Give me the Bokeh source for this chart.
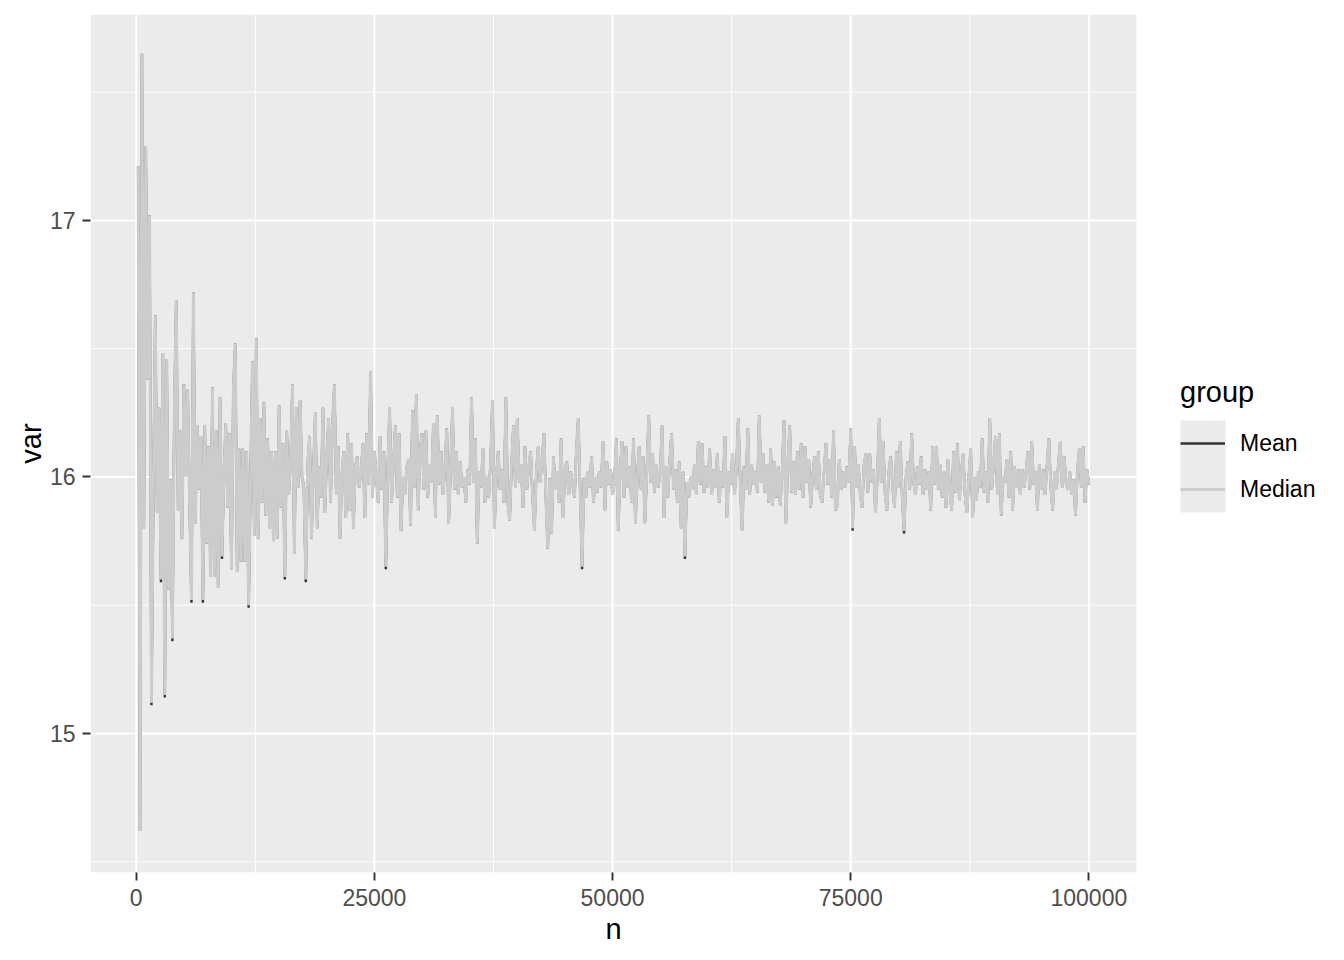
from bokeh.plotting import figure
from bokeh.models import (Range1d, FixedTicker, NumeralTickFormatter, Legend, LegendItem,
                          ColumnDataSource, BoxAnnotation, Title)
from bokeh.embed import file_html
from bokeh.resources import INLINE

# ---------------- data ----------------
n_values = list(range(200, 100001, 200))

median_values = [
    # n 200 - 5000
    17.21, 14.62, 17.65, 15.80, 17.29, 16.38, 17.02, 15.12, 15.95, 16.63, 15.86, 16.27, 15.60, 16.48, 15.15, 16.46, 15.56, 15.99, 15.37, 16.26, 16.69, 15.87, 16.18, 15.76, 16.36,
    # n 5200 - 10000
    16.00, 16.34, 15.90, 15.52, 16.72, 15.82, 16.20, 15.95, 16.16, 15.52, 16.20, 15.74, 16.12, 15.61, 16.35, 15.61, 16.18, 15.57, 16.31, 15.69, 16.00, 16.21, 15.88, 16.17, 15.64,
    # n 10200 - 15000
    16.35, 16.52, 15.63, 16.11, 15.67, 16.11, 15.67, 16.10, 15.50, 15.99, 16.45, 15.77, 16.54, 15.76, 16.23, 15.90, 16.29, 15.85, 16.15, 15.80, 16.10, 15.75, 16.10, 15.76, 16.28,
    # n 15200 - 20000
    15.88, 16.13, 15.61, 16.18, 15.93, 16.05, 16.36, 15.70, 16.27, 15.96, 16.30, 16.00, 15.96, 15.60, 16.05, 16.16, 15.76, 16.03, 16.25, 15.80, 16.04, 15.92, 16.27, 15.86, 16.08,
    # n 20200 - 25000
    16.23, 15.90, 16.20, 16.36, 15.93, 16.12, 15.76, 16.02, 16.10, 15.84, 16.17, 15.87, 16.13, 15.80, 16.04, 16.08, 15.96, 16.02, 16.13, 15.84, 16.17, 15.97, 16.41, 15.92, 16.10,
    # n 25200 - 30000
    16.00, 15.90, 16.16, 15.95, 16.10, 15.65, 16.02, 16.27, 15.90, 16.05, 16.20, 15.92, 16.17, 15.79, 16.00, 15.93, 16.04, 16.07, 15.81, 16.26, 15.96, 16.32, 15.87, 16.10, 16.17,
    # n 30200 - 35000
    15.95, 16.18, 15.92, 16.05, 15.98, 16.21, 15.84, 16.24, 15.97, 16.10, 15.93, 16.04, 16.19, 15.82, 16.03, 16.27, 15.95, 16.10, 15.93, 16.06, 15.96, 16.00, 15.90, 16.03, 15.97,
    # n 35200 - 40000
    16.31, 15.98, 16.15, 15.74, 16.02, 15.96, 16.11, 15.90, 16.00, 15.92, 16.06, 16.30, 15.80, 16.00, 16.10, 15.95, 16.03, 15.90, 16.31, 15.90, 15.83, 16.05, 16.20, 15.96, 16.23,
    # n 40200 - 45000
    15.98, 16.05, 15.88, 16.12, 15.95, 16.04, 16.10, 15.93, 15.79, 16.02, 16.12, 15.98, 16.06, 16.17, 15.92, 15.72, 16.00, 15.78, 16.08, 15.95, 16.02, 15.90, 16.15, 15.84, 16.03,
    # n 45200 - 50000
    16.06, 15.93, 16.02, 15.98, 15.92, 16.10, 16.23, 15.95, 15.65, 16.00, 15.92, 16.02, 15.96, 16.08, 15.90, 16.00, 15.94, 16.02, 15.96, 16.14, 15.87, 16.06, 15.97, 16.03, 15.93,
    # n 50200 - 55000
    15.98, 16.15, 15.79, 16.03, 16.14, 15.92, 16.12, 15.96, 16.04, 15.90, 16.15, 15.82, 16.00, 16.12, 15.95, 16.08, 15.82, 16.02, 16.24, 15.98, 16.09, 15.94, 16.05, 15.96, 16.02,
    # n 55200 - 60000
    16.20, 15.84, 16.04, 15.92, 16.06, 16.17, 15.95, 16.03, 15.90, 16.06, 15.80, 16.02, 15.69, 15.98, 15.92, 16.00, 15.95, 16.05, 15.93, 16.14, 15.97, 16.13, 15.94, 16.04, 15.96,
    # n 60200 - 65000
    16.11, 15.93, 16.03, 15.96, 16.09, 15.90, 16.02, 15.96, 16.16, 15.84, 16.02, 15.97, 16.09, 15.93, 16.03, 16.23, 15.98, 15.79, 16.04, 15.95, 16.19, 15.93, 16.05, 15.97, 16.02,
    # n 65200 - 70000
    15.94, 16.24, 15.98, 16.09, 15.94, 16.05, 15.90, 16.11, 15.89, 16.06, 15.92, 16.04, 15.89, 16.02, 16.22, 15.82, 16.05, 16.20, 15.94, 16.06, 15.93, 16.10, 15.95, 16.13, 15.92,
    # n 70200 - 75000
    16.12, 15.98, 16.07, 15.88, 16.00, 16.08, 15.95, 16.10, 15.93, 15.90, 16.02, 16.13, 15.97, 16.07, 15.92, 16.18, 15.87, 15.89, 16.07, 15.95, 16.02, 15.96, 16.04, 15.98, 16.19,
    # n 75200 - 80000
    15.80, 16.12, 15.96, 16.05, 15.93, 15.88, 16.05, 16.09, 15.94, 16.09, 15.98, 16.03, 15.86, 16.00, 16.23, 15.98, 16.14, 15.94, 15.87, 16.02, 16.08, 15.96, 15.88, 16.10, 15.96,
    # n 80200 - 85000
    16.14, 15.93, 15.79, 16.00, 16.06, 15.95, 16.17, 15.98, 15.93, 16.04, 15.97, 16.08, 15.93, 16.03, 15.95, 16.02, 15.87, 16.12, 15.97, 16.12, 15.95, 16.05, 15.92, 16.02, 15.88,
    # n 85200 - 90000
    16.07, 15.95, 15.87, 16.10, 15.94, 16.13, 15.91, 16.02, 16.09, 15.93, 15.86, 16.00, 16.11, 15.84, 16.00, 15.91, 16.02, 15.96, 16.15, 15.94, 16.02, 15.90, 16.23, 15.95, 16.05,
    # n 90200 - 95000
    16.16, 15.93, 16.17, 15.85, 16.00, 15.98, 16.07, 15.92, 16.10, 15.87, 16.04, 15.96, 16.03, 15.93, 16.03, 15.96, 16.02, 16.10, 15.95, 16.14, 15.97, 16.02, 15.87, 16.05, 15.95,
    # n 95200 - 100000
    16.03, 15.93, 16.04, 16.15, 15.96, 15.87, 16.02, 15.95, 16.05, 16.14, 15.96, 16.08, 15.98, 15.95, 16.02, 15.93, 15.99, 15.85, 16.03, 16.11, 15.96, 16.12, 15.90, 16.03, 15.97,
]

# the mean coincides with the median except at these points, where it dips slightly lower
mean_overrides = {7: 15.11, 12: 15.59, 14: 15.14, 18: 15.36, 28: 15.51, 34: 15.51, 44: 15.68,
                  58: 15.49, 77: 15.60, 88: 15.59, 130: 15.64, 233: 15.64, 287: 15.68,
                  375: 15.79, 402: 15.78}
mean_values = list(median_values)
for k, v in mean_overrides.items():
    mean_values[k] = v

groups = ["Mean", "Median"]
group_colors = ["#333333", "#CCCCCC"]

x_ticks = [0, 25000, 50000, 75000, 100000]
x_minor = [12500, 37500, 62500, 87500]
y_ticks = [15, 16, 17]
y_minor = [14.5, 15.5, 16.5, 17.5]

FONT = "Liberation Sans"

# panel (data area) extents and pixel geometry
X0, X1 = -4800, 105000
Y0, Y1 = 14.458, 17.803
PANEL_W, PANEL_H = 1046, 858          # grey panel size in px
FRAME_W = 1246                        # frame extended to the right to host the legend
px_x = (X1 - X0) / PANEL_W            # data units per px
px_y = (Y1 - Y0) / PANEL_H
X_END = X0 + FRAME_W * px_x

# legend geometry (px relative to panel's left / top)
KEY_L, KEY_W, KEY_T, KEY_H = 1090, 45, 406, 46

# ---------------- figure ----------------
p = figure(frame_width=FRAME_W, frame_height=PANEL_H,
           x_range=Range1d(X0, X_END), y_range=Range1d(Y0, Y1),
           output_backend="svg", toolbar_location=None,
           min_border_left=90, min_border_top=14, min_border_bottom=80, min_border_right=3)

p.background_fill_color = "white"
p.border_fill_color = "white"
p.outline_line_color = None
p.grid.visible = False

# grey panel
p.add_layout(BoxAnnotation(left=X0, right=X1, fill_color="#EBEBEB", fill_alpha=1,
                           line_color=None, level="underlay"))

# grid lines (white), limited to the panel
p.segment(x0=X0, x1=X1, y0=y_minor, y1=y_minor, line_color="white", line_width=0.95)
p.segment(x0=x_minor, x1=x_minor, y0=Y0, y1=Y1, line_color="white", line_width=0.95)
p.segment(x0=X0, x1=X1, y0=y_ticks, y1=y_ticks, line_color="white", line_width=1.9)
p.segment(x0=x_ticks, x1=x_ticks, y0=Y0, y1=Y1, line_color="white", line_width=1.9)

p.xaxis.ticker = FixedTicker(ticks=x_ticks, minor_ticks=x_minor)
p.yaxis.ticker = FixedTicker(ticks=y_ticks, minor_ticks=y_minor)
p.xaxis.formatter = NumeralTickFormatter(format="0")
p.yaxis.formatter = NumeralTickFormatter(format="0")
p.xaxis.bounds = (X0, X1)

p.axis.axis_line_color = None
p.axis.major_tick_line_color = "#333333"
p.axis.major_tick_line_width = 1.9
p.axis.major_tick_out = 8
p.axis.major_tick_in = 0
p.axis.minor_tick_line_color = None
p.axis.major_label_text_font = FONT
p.axis.major_label_text_font_size = "23px"
p.axis.major_label_text_color = "#4D4D4D"
p.axis.axis_label_text_font = FONT
p.axis.axis_label_text_font_size = "29px"
p.axis.axis_label_text_font_style = "normal"
p.axis.axis_label_text_color = "black"
p.xaxis.major_label_standoff = 8
p.yaxis.major_label_standoff = 7
p.yaxis.axis_label_standoff = 0
p.yaxis.axis_label = "var"

# x-axis title, centred under the grey panel (not under the whole frame)
x_title = Title(text="n", align="left", offset=PANEL_W / 2 - 8, standoff=4,
                text_font=FONT, text_font_size="29px", text_font_style="normal",
                text_color="black")
p.add_layout(x_title, "below")

src = ColumnDataSource(dict(n=n_values, mean=mean_values, median=median_values))
r_mean = p.line("n", "mean", source=src, line_color=group_colors[0], line_width=2.4)
r_median = p.line("n", "median", source=src, line_color=group_colors[1], line_width=3.0)

# grey background of the legend keys
p.quad(left=[X0 + KEY_L * px_x], right=[X0 + (KEY_L + KEY_W) * px_x],
       top=[Y1 - KEY_T * px_y], bottom=[Y1 - (KEY_T + 2 * KEY_H) * px_y],
       fill_color="#EBEBEB", line_color=None)

legend = Legend(
    items=[LegendItem(label=groups[0], renderers=[r_mean]),
           LegendItem(label=groups[1], renderers=[r_median])],
    title="group", location=(KEY_L, PANEL_H - KEY_T - 2 * KEY_H), orientation="vertical",
    glyph_width=KEY_W, glyph_height=KEY_H, spacing=0, label_standoff=15,
    padding=0, margin=0, border_line_color=None, background_fill_alpha=0,
    label_text_font=FONT, label_text_font_size="23px", label_text_color="black",
    title_text_font=FONT, title_text_font_size="29px", title_text_font_style="normal",
    title_text_color="black", title_standoff=11,
)
p.add_layout(legend)

open("out.html", "w").write(file_html(p, INLINE))
